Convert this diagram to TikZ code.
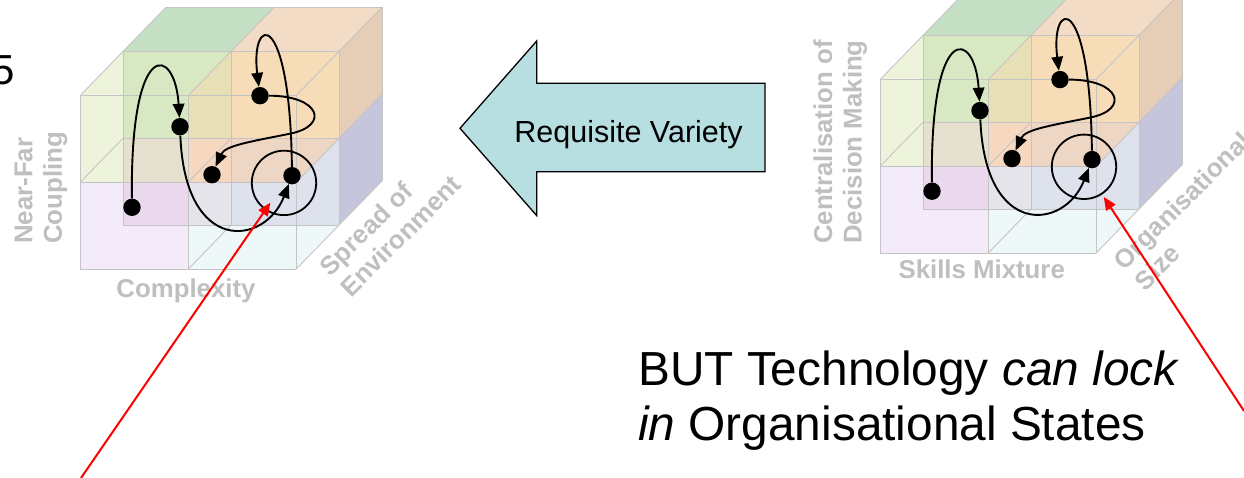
\documentclass[tikz,border=0pt]{standalone}
\usepackage{fontspec}
\setmainfont{Liberation Sans}
\usetikzlibrary{arrows.meta}

% rear layer of the state cube (as seen over white)
\definecolor{bULtopc}{RGB}{197,224,197}
\definecolor{bULfrontc}{RGB}{197,223,190}
\definecolor{bURtopc}{RGB}{243,220,197}
\definecolor{bURfrontc}{RGB}{235,214,196}
\definecolor{bURrightc}{RGB}{230,205,181}
\definecolor{bLLfrontc}{RGB}{233,206,220}
\definecolor{bLRfrontc}{RGB}{212,199,224}
\definecolor{bLRrightc}{RGB}{197,197,220}
% front layer of the state cube (translucent)
\definecolor{fULc}{RGB}{227,238,197}
\definecolor{fURc}{RGB}{255,224,176}
\definecolor{fLLc}{RGB}{235,223,247}
\definecolor{fLRc}{RGB}{227,244,244}
\definecolor{edgegray}{RGB}{196,196,196}
\definecolor{labelgray}{RGB}{191,191,191}
\definecolor{arrowfill}{RGB}{183,222,224}

\tikzset{
  cubeedge/.style={draw=edgegray, line width=0.9pt},
  frontface/.style={fill=#1, fill opacity=0.6},
  dot/.style={circle, fill=black, inner sep=0pt, minimum size=17.4pt},
  ring/.style={circle, draw=black, line width=1.8pt, inner sep=0pt, minimum size=64.4pt},
  flow/.style={draw=black, line width=1.9pt, -{Triangle[length=14pt,width=11.5pt]}},
  redarrow/.style={draw=red, line width=2pt, -{Triangle[length=13pt,width=11pt]}},
  axislabel/.style={text=labelgray, font=\fontsize{25.8}{29.5}\selectfont\bfseries,
    inner sep=0pt, align=left},
}

% 2x2x2 state cube with a trajectory of states; #1 name prefix, #2 front top-left corner
\newcommand\statecube[2]{%
\begin{scope}[shift={#2}, name prefix=#1-]
  \foreach \i in {0,1,2}{\foreach \j in {0,1,2}{\foreach \k in {0,1,2}{
    \coordinate (p\i\j\k) at ({\i*108+\k*43},{\j*86.8-\k*44.2});}}}
  % rear cells
  \fill[bULtopc] (p001) -- (p101) -- (p102) -- (p002) -- cycle;
  \fill[bURtopc] (p101) -- (p201) -- (p202) -- (p102) -- cycle;
  \fill[bURrightc] (p201) -- (p211) -- (p212) -- (p202) -- cycle;
  \fill[bLRrightc] (p211) -- (p221) -- (p222) -- (p212) -- cycle;
  \fill[bULfrontc] (p001) -- (p101) -- (p111) -- (p011) -- cycle;
  \fill[bURfrontc] (p101) -- (p201) -- (p211) -- (p111) -- cycle;
  \fill[bLLfrontc] (p011) -- (p111) -- (p121) -- (p021) -- cycle;
  \fill[bLRfrontc] (p111) -- (p211) -- (p221) -- (p121) -- cycle;
  % front cells
  \fill[frontface=fULc] (p000) -- (p100) -- (p110) -- (p010) -- cycle;
  \fill[frontface=fULc] (p000) -- (p100) -- (p101) -- (p001) -- cycle;
  \fill[frontface=fURc] (p100) -- (p200) -- (p210) -- (p110) -- cycle;
  \fill[frontface=fURc] (p100) -- (p200) -- (p201) -- (p101) -- cycle;
  \fill[frontface=fURc] (p200) -- (p210) -- (p211) -- (p201) -- cycle;
  \fill[frontface=fLLc] (p010) -- (p110) -- (p120) -- (p020) -- cycle;
  \fill[frontface=fLRc] (p110) -- (p210) -- (p220) -- (p120) -- cycle;
  \fill[frontface=fLRc] (p210) -- (p220) -- (p221) -- (p211) -- cycle;
  % cell edges
  \foreach \n in {0,1,2}{
    \draw[cubeedge] (p0\n0) -- (p2\n0);
    \draw[cubeedge] (p\n00) -- (p\n20);
    \draw[cubeedge] (p0\n1) -- (p2\n1);
    \draw[cubeedge] (p\n01) -- (p\n21);}
  \draw[cubeedge] (p002) -- (p202) -- (p222);
  \foreach \a in {00,10,20,01,11,21,12,22}{
    \draw[cubeedge] (p\a0) -- (p\a1);}
  \foreach \a in {00,10,20,21,22}{
    \draw[cubeedge] (p\a1) -- (p\a2);}
  % trajectory of states
  \node[ring] (ring) at (204,87.2) {};
  \node[dot] (A) at (52,111.6) {};
  \node[dot] (B) at (100,31) {};
  \node[dot] (C) at (212,80) {};
  \node[dot] (D) at (180,0) {};
  \node[dot] (E) at (132,79) {};
  \draw[flow] (A) .. controls (50,-60) and (95,-50) .. (B);
  \draw[flow] (B) .. controls (105,160) and (185,150) .. (C);
  \draw[flow] (C) .. controls (210,-90) and (170,-80) .. (D);
  \draw[flow] (D) .. controls (240,0) and (250,30) .. (210,38)
                  .. controls (170,46) and (145,50) .. (E);
\end{scope}}

\begin{document}
\begin{tikzpicture}[x=1pt,y=-1pt]
  \useasboundingbox (0,0) rectangle (1244,478);
  \fill[white] (0,0) rectangle (1244,478);

  \node[font=\fontsize{42}{50}\selectfont, anchor=base west, inner sep=0pt] (num) at (-8.5,85) {5};

  % environment cube
  \statecube{L}{(80,95.7)}
  \node[axislabel, rotate=90, anchor=north west] (L-yl) at (14.5,244) {Near-Far\\Coupling};
  \node[axislabel, anchor=base] (L-xl) at (186,297.5) {Complexity};
  \node[axislabel, rotate=45, anchor=north west] (L-zl) at (317,264) {Spread of\\Environment};

  % organisation cube
  \statecube{R}{(880,79.6)}
  \node[axislabel, rotate=90, anchor=north west] (R-yl) at (813.2,244) {Centralisation of\\Decision Making};
  \node[axislabel, anchor=base] (R-xl) at (981.7,278.3) {Skills Mixture};
  \node[axislabel, rotate=45, anchor=north west] (R-zl) at (1111,258) {Organisational\\Size};

  % block arrow
  \draw[line width=1.3pt, fill=arrowfill] (460,128.3) -- (536.7,41) -- (536.7,83.3)
    -- (765,83.3) -- (765,171.7) -- (536.7,171.7) -- (536.7,215.6) -- cycle;
  \node[font=\fontsize{30.5}{36}\selectfont, anchor=base, inner sep=0pt] (rv) at (628.5,142.7) {Requisite Variety};

  \node[font=\fontsize{47.8}{55}\selectfont, anchor=north west, align=left, inner sep=0pt] (msg)
    at (638,350.5) {BUT Technology \textit{can lock}\\\textit{in} Organisational States};

  % pointers to the locked-in states
  \coordinate (Lfree) at (81,478);
  \coordinate (Rfree) at (1244,411);
  \draw[redarrow, shorten >=24pt] (Lfree) -- (L-ring.center);
  \draw[redarrow, shorten >=36pt] (Rfree) -- (R-ring.center);
\end{tikzpicture}
\end{document}
